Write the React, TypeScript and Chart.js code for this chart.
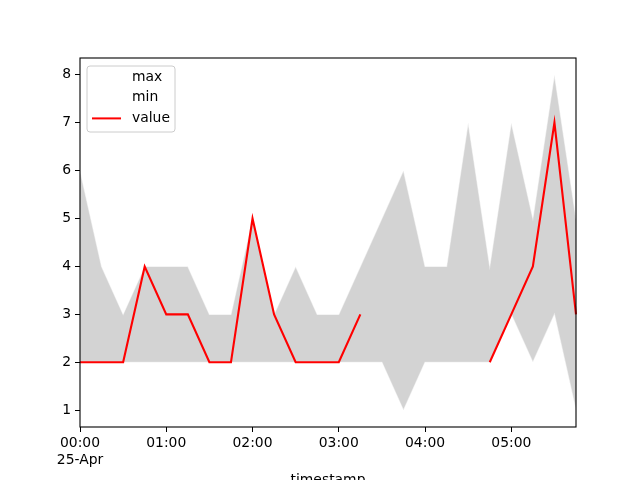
import React, { useEffect, useRef } from "react";
import { Chart, registerables } from "chart.js";

Chart.register(...registerables);

const timestamps = [
  "00:00", "00:15", "00:30", "00:45",
  "01:00", "01:15", "01:30", "01:45",
  "02:00", "02:15", "02:30", "02:45",
  "03:00", "03:15", "03:30", "03:45",
  "04:00", "04:15", "04:30", "04:45",
  "05:00", "05:15", "05:30", "05:45",
];
const dateLabel = "25-Apr";
const hourTicks = ["00:00", "01:00", "02:00", "03:00", "04:00", "05:00"];
const yTicks = [1, 2, 3, 4, 5, 6, 7, 8];

const maxValues = [6, 4, 3, 4, 4, 4, 3, 3, 5, 3, 4, 3, 3, 4, 5, 6, 4, 4, 7, 4, 7, 5, 8, 5];
const minValues = [2, 2, 2, 2, 2, 2, 2, 2, 2, 2, 2, 2, 2, 2, 2, 1, 2, 2, 2, 2, 3, 2, 3, 1];
const seriesValues: (number | null)[] = [
  2, 2, 2, 4, 3, 3, 2, 2, 5, 3, 2, 2, 2, 3, null, null, null, null, null, 2, 3, 4, 7, 3,
];

const FONT = "DejaVu Sans";
const FS = 13.9;

const framePlugin = {
  id: "frame",
  afterDraw(chart: any) {
    const { ctx, chartArea } = chart;
    ctx.save();
    ctx.strokeStyle = "#000";
    ctx.lineWidth = 1.1;
    ctx.strokeRect(chartArea.left, chartArea.top, chartArea.right - chartArea.left, chartArea.bottom - chartArea.top);

    // x axis title
    ctx.fillStyle = "#000";
    ctx.font = `${FS}px "${FONT}"`;
    ctx.textAlign = "center";
    ctx.textBaseline = "alphabetic";
    ctx.fillText("timestamp", (chartArea.left + chartArea.right) / 2, 484);

    // legend
    const x0 = chartArea.left + 7;
    const y0 = chartArea.top + 8;
    const w = 88;
    const h = 66;
    const r = 3;
    ctx.beginPath();
    ctx.moveTo(x0 + r, y0);
    ctx.lineTo(x0 + w - r, y0);
    ctx.quadraticCurveTo(x0 + w, y0, x0 + w, y0 + r);
    ctx.lineTo(x0 + w, y0 + h - r);
    ctx.quadraticCurveTo(x0 + w, y0 + h, x0 + w - r, y0 + h);
    ctx.lineTo(x0 + r, y0 + h);
    ctx.quadraticCurveTo(x0, y0 + h, x0, y0 + h - r);
    ctx.lineTo(x0, y0 + r);
    ctx.quadraticCurveTo(x0, y0, x0 + r, y0);
    ctx.closePath();
    ctx.fillStyle = "rgba(255,255,255,0.8)";
    ctx.fill();
    ctx.strokeStyle = "#cccccc";
    ctx.lineWidth = 1;
    ctx.stroke();

    chart.data.datasets.forEach((ds: any, i: number) => {
      const cy = y0 + 11 + i * 20.7;
      ctx.strokeStyle = i === 2 ? ds.borderColor : "#ffffff";
      ctx.lineWidth = 2;
      ctx.beginPath();
      ctx.moveTo(x0 + 5, cy);
      ctx.lineTo(x0 + 34, cy);
      ctx.stroke();
      ctx.fillStyle = "#000";
      ctx.textAlign = "left";
      ctx.textBaseline = "middle";
      ctx.fillText(ds.label, x0 + 45, cy);
    });
    ctx.restore();
  },
};

export default function App() {
  const ref = useRef<HTMLCanvasElement>(null);

  useEffect(() => {
    document.body.style.margin = "0";
    const canvas = ref.current!;
    const chart = new Chart(canvas, {
      type: "line",
      data: {
        labels: timestamps,
        datasets: [
          {
            label: "max",
            data: maxValues,
            borderColor: "rgba(255,255,255,0.5)",
            borderWidth: 1.2,
            pointRadius: 0,
            fill: "+1",
            backgroundColor: "#d3d3d3",
            tension: 0,
            order: 2,
          },
          {
            label: "min",
            data: minValues,
            borderColor: "rgba(255,255,255,0.5)",
            borderWidth: 1.2,
            pointRadius: 0,
            fill: false,
            tension: 0,
            order: 1,
          },
          {
            label: "value",
            data: seriesValues,
            borderColor: "#ff0000",
            borderWidth: 2.1,
            pointRadius: 0,
            fill: false,
            spanGaps: false,
            tension: 0,
            order: 0,
          },
        ],
      },
      options: {
        responsive: false,
        animation: false,
        layout: { padding: { top: 58, right: 64, left: 0, bottom: 0 } },
        plugins: {
          legend: { display: false },
          tooltip: { enabled: false },
        },
        scales: {
          x: {
            type: "category",
            offset: false,
            grid: { drawOnChartArea: false, drawTicks: true, tickLength: 5, tickColor: "#000", color: "#000" },
            border: { display: false },
            afterFit: (scale: any) => {
              scale.height = 53;
            },
            afterBuildTicks: (scale: any) => {
              scale.ticks = hourTicks.map((t) => ({ value: timestamps.indexOf(t) }));
            },
            ticks: {
              autoSkip: false,
              maxRotation: 0,
              padding: 3,
              color: "#000",
              font: { family: FONT, size: FS },
              callback: function (this: any, value: any) {
                const lbl = timestamps[value as number];
                return value === 0 ? [lbl, dateLabel] : lbl;
              },
            },
          },
          y: {
            min: 0.65,
            max: 8.35,
            grid: { drawOnChartArea: false, drawTicks: true, tickLength: 5, tickColor: "#000", color: "#000" },
            border: { display: false },
            afterFit: (scale: any) => {
              scale.width = 80;
            },
            afterBuildTicks: (scale: any) => {
              scale.ticks = yTicks.map((v) => ({ value: v }));
            },
            ticks: {
              padding: 4,
              color: "#000",
              font: { family: FONT, size: FS },
              callback: (v: any) => String(v),
            },
          },
        },
      },
      plugins: [framePlugin],
    });
    return () => chart.destroy();
  }, []);

  return (
    <div style={{ position: "absolute", left: 0, top: 0, width: 640, height: 480, overflow: "hidden" }}>
      <canvas ref={ref} width={640} height={480} />
    </div>
  );
}
